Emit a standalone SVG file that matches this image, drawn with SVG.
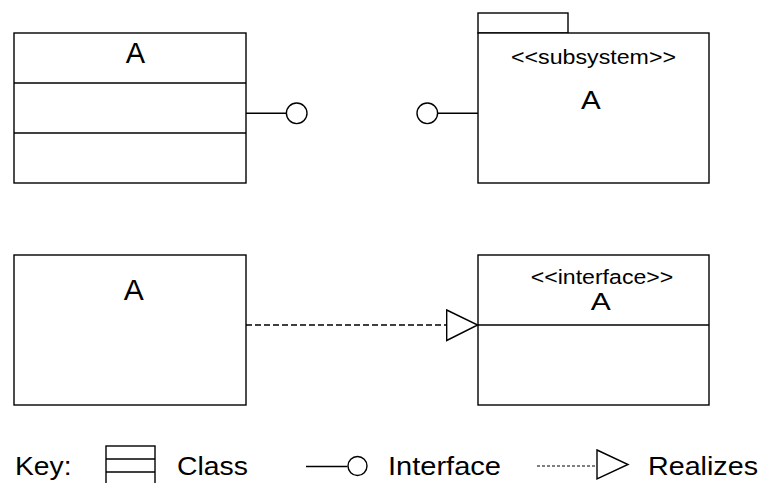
<svg xmlns="http://www.w3.org/2000/svg" width="763" height="483" viewBox="0 0 763 483">
<style>
.s{fill:#fff;stroke:#000;stroke-width:1.4}
.l{fill:none;stroke:#000;stroke-width:1.4}
.d{fill:none;stroke:#000;stroke-width:1.4;stroke-dasharray:6 3}
.dk{fill:none;stroke:#000;stroke-width:1.2;stroke-dasharray:3 2}
text{font-family:"Liberation Sans",Arial,sans-serif;fill:#000}
</style>
<rect width="763" height="483" fill="#fff"/>
<g id="classA">
<rect class="s" x="14" y="33" width="232" height="150"/>
<line class="l" x1="14" y1="83" x2="246" y2="83"/>
<line class="l" x1="14" y1="133" x2="246" y2="133"/>
<text x="135.5" y="62.7" font-size="29" text-anchor="middle">A</text>
</g>
<g id="subsystemA">
<rect class="s" x="478" y="13" width="90" height="20"/>
<rect class="s" x="478" y="33" width="231" height="150"/>
<text x="511" y="63.5" font-size="20.5" textLength="165" lengthAdjust="spacingAndGlyphs">&lt;&lt;subsystem&gt;&gt;</text>
<text x="581" y="109.3" font-size="26" textLength="19.7" lengthAdjust="spacingAndGlyphs">A</text>
</g>
<g id="classA2">
<rect class="s" x="14" y="255" width="232" height="150"/>
<text x="133.8" y="300" font-size="30" text-anchor="middle">A</text>
</g>
<g id="interfaceA">
<rect class="s" x="478" y="255" width="231" height="150"/>
<line class="l" x1="478" y1="325" x2="709" y2="325"/>
<text x="530.7" y="283.5" font-size="20.5" textLength="142.6" lengthAdjust="spacingAndGlyphs">&lt;&lt;interface&gt;&gt;</text>
<text x="590.7" y="310" font-size="23" textLength="20" lengthAdjust="spacingAndGlyphs">A</text>
</g>
<g id="connectors">
<line class="l" x1="246" y1="113.3" x2="286.4" y2="113.3"/>
<circle class="s" cx="296.7" cy="113.3" r="10.3"/>
<line class="l" x1="437.6" y1="113.3" x2="478" y2="113.3"/>
<circle class="s" cx="427.3" cy="113.3" r="10.3"/>
<line class="d" x1="246" y1="325" x2="446.7" y2="325"/>
<polygon class="s" points="446.7,310 477.7,325 446.7,340.5"/>
</g>
<g id="key">
<text x="15" y="475" font-size="26" textLength="56.5" lengthAdjust="spacingAndGlyphs">Key:</text>
<rect class="s" x="106" y="446" width="49" height="42"/>
<line class="l" x1="106" y1="459" x2="155" y2="459"/>
<line class="l" x1="106" y1="472" x2="155" y2="472"/>
<text x="177" y="475" font-size="26" textLength="71" lengthAdjust="spacingAndGlyphs">Class</text>
<line class="l" x1="306" y1="466.5" x2="347.5" y2="466.5"/>
<circle class="s" cx="357.5" cy="466" r="9.5"/>
<text x="388" y="475" font-size="26" textLength="113" lengthAdjust="spacingAndGlyphs">Interface</text>
<line class="dk" x1="537" y1="466" x2="597" y2="466"/>
<polygon class="s" points="597,450 628,464.5 597,479"/>
<text x="648" y="475" font-size="26" textLength="110" lengthAdjust="spacingAndGlyphs">Realizes</text>
</g>
</svg>
